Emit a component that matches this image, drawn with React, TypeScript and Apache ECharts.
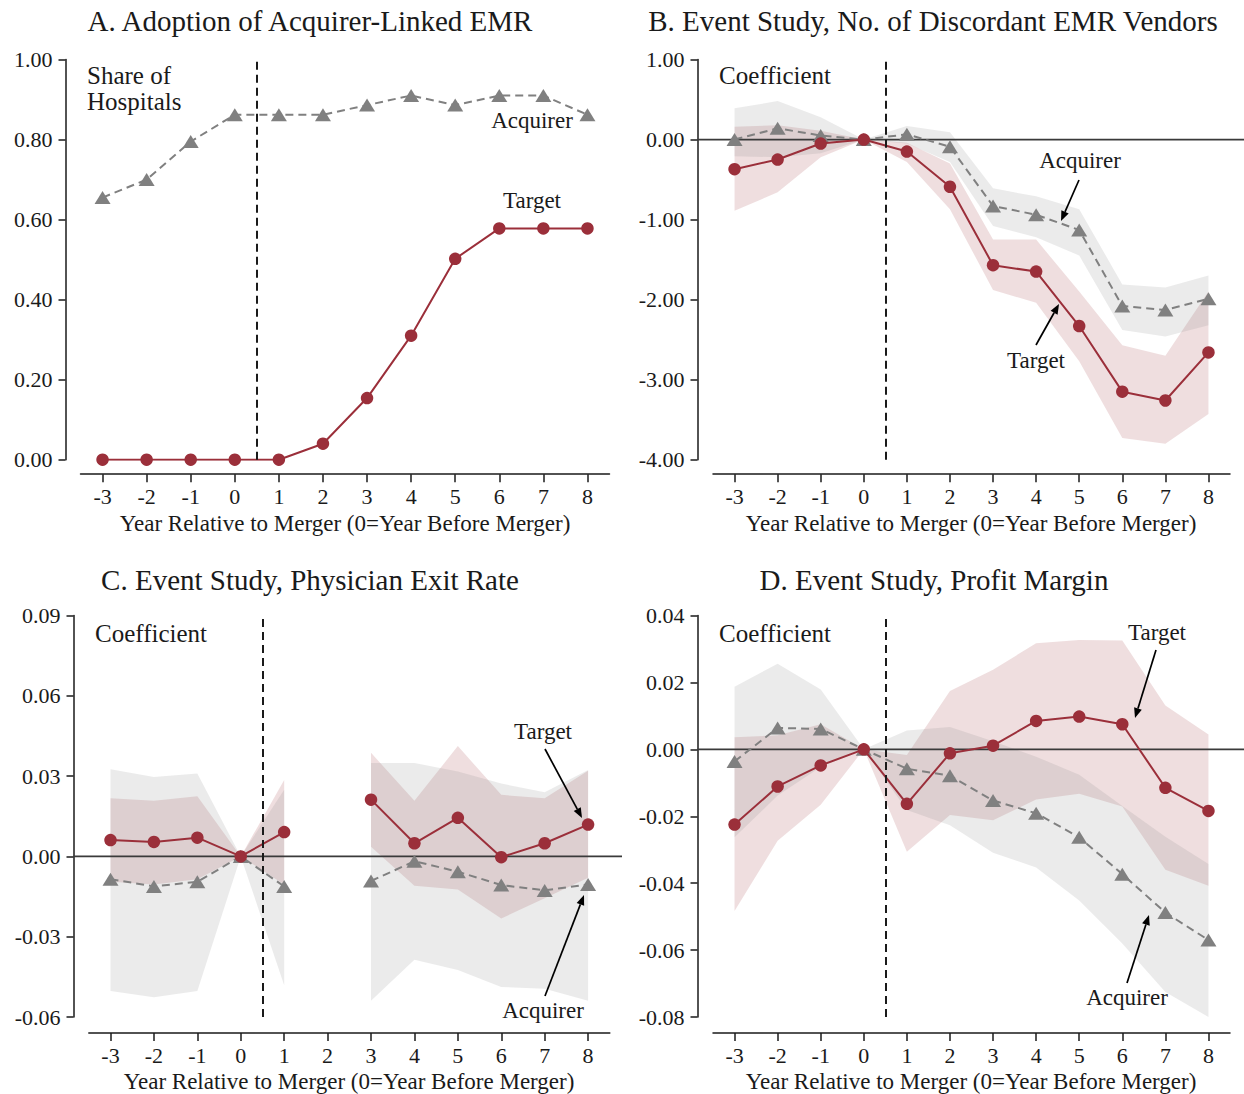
import React, { useEffect, useRef } from "react";
import * as echarts from "echarts";

const years = [-3, -2, -1, 0, 1, 2, 3, 4, 5, 6, 7, 8];

// Panel A: share of hospitals
const aTarget = [0, 0, 0, 0, 0, 0.04, 0.154, 0.31, 0.502, 0.578, 0.578, 0.578];
const aAcquirer = [0.655, 0.7, 0.795, 0.862, 0.862, 0.862, 0.886, 0.91, 0.886, 0.91, 0.91, 0.862];

// Panel B: discordant EMR vendors
const bTarget = [-0.37, -0.25, -0.05, 0, -0.15, -0.59, -1.57, -1.65, -2.33, -3.15, -3.26, -2.66];
const bTargetHi = [0.16, 0.18, 0.11, 0, -0.04, -0.3, -1.25, -1.25, -1.9, -2.57, -2.7, -1.9];
const bTargetLo = [-0.89, -0.66, -0.22, 0, -0.28, -0.87, -1.88, -2.04, -2.77, -3.73, -3.8, -3.43];
const bAcq = [0.0, 0.14, 0.05, 0, 0.065, -0.09, -0.83, -0.94, -1.13, -2.08, -2.13, -1.99];
const bAcqHi = [0.39, 0.48, 0.28, 0, 0.17, 0.09, -0.61, -0.71, -0.87, -1.81, -1.85, -1.7];
const bAcqLo = [-0.21, -0.22, -0.17, 0, -0.05, -0.28, -1.08, -1.22, -1.45, -2.38, -2.46, -2.32];

// Panel C: physician exit rate (no estimate for year 2)
const cTarget = [0.0061, 0.0054, 0.007, 0, 0.0091, null, 0.0212, 0.0049, 0.0144, -0.0003, 0.0049, 0.0119];
const cTargetHi = [0.0217, 0.0208, 0.0225, 0, 0.0285, null, 0.0387, 0.0208, 0.0412, 0.023, 0.0217, 0.032];
const cTargetLo = [-0.0095, -0.0105, -0.0085, 0, -0.0105, null, 0.0036, -0.011, -0.0124, -0.0232, -0.0156, -0.008];
const cAcq = [-0.0085, -0.0112, -0.0095, 0, -0.0112, null, -0.0092, -0.0018, -0.0057, -0.0107, -0.0127, -0.0105];
const cAcqHi = [0.0326, 0.0297, 0.031, 0, 0.0249, null, 0.0349, 0.0349, 0.0317, 0.0272, 0.024, 0.0323];
const cAcqLo = [-0.0503, -0.0526, -0.0503, 0, -0.0481, null, -0.0539, -0.0386, -0.0424, -0.0488, -0.0494, -0.0539];

// Panel D: profit margin
const dTarget = [-0.0225, -0.0111, -0.0048, 0, -0.0163, -0.0012, 0.0011, 0.0085, 0.0098, 0.0075, -0.0115, -0.0184];
const dTargetHi = [0.0036, 0.0042, 0.0075, 0, -0.0017, 0.0174, 0.0238, 0.0317, 0.0327, 0.0325, 0.0131, 0.0044];
const dTargetLo = [-0.0483, -0.0273, -0.0166, 0, -0.0306, -0.0196, -0.0212, -0.015, -0.0133, -0.0171, -0.036, -0.0408];
const dAcq = [-0.0036, 0.0064, 0.0061, 0, -0.0058, -0.0079, -0.0153, -0.0191, -0.0263, -0.0373, -0.0488, -0.057];
const dAcqHi = [0.0187, 0.0256, 0.0179, 0, 0.0056, 0.0067, 0.0024, -0.0022, -0.0076, -0.0169, -0.0261, -0.0343];
const dAcqLo = [-0.0263, -0.0138, -0.0053, 0, -0.0181, -0.0227, -0.0309, -0.0353, -0.0452, -0.058, -0.0725, -0.08];

const titles = [
  "A. Adoption of Acquirer-Linked EMR",
  "B. Event Study, No. of Discordant EMR Vendors",
  "C. Event Study, Physician Exit Rate",
  "D. Event Study, Profit Margin",
];
const xTitle = "Year Relative to Merger (0=Year Before Merger)";
const yRanges = [
  { min: 0, max: 1, interval: 0.2 },
  { min: -4, max: 1, interval: 1 },
  { min: -0.06, max: 0.09, interval: 0.03 },
  { min: -0.08, max: 0.04, interval: 0.02 },
];

const FONT = "Liberation Serif";
const INK = "#1a1a1a";
const MAROON = "#9b2f3a";
const GREY = "#808080";
const PINK_BAND = "rgba(155,47,58,0.16)";
const GREY_BAND = "rgba(128,128,128,0.16)";

// layout (pixel boxes of each panel)
const grids = [
  { left: 80.5, top: 59.5, width: 529, height: 400.2, yOff: 15, xOff: 14.5 },
  { left: 713, top: 59.5, width: 517, height: 400.2, yOff: 15.5, xOff: 14.5 },
  { left: 88.8, top: 615.5, width: 521, height: 401.5, yOff: 15.3, xOff: 16 },
  { left: 713, top: 615.5, width: 517, height: 401.5, yOff: 15.5, xOff: 16 },
];

const pts = (arr: (number | null)[]) => years.map((x, i) => [x, arr[i] == null ? "-" : arr[i]]);

// confidence band: custom series drawing one polygon per contiguous run of estimates
function band(gi: number, lo: (number | null)[], hi: (number | null)[], color: string) {
  return {
    type: "custom", xAxisIndex: gi, yAxisIndex: gi, silent: true, z: 1, clip: true,
    data: years.map((x, i) => [x, lo[i] == null ? "-" : lo[i], hi[i] == null ? "-" : hi[i]]),
    renderItem: (params: any, api: any) => {
      if (params.dataIndex !== 0) return null;
      const n = years.length;
      const runs: number[][] = [];
      let cur: number[] = [];
      for (let i = 0; i < n; i++) {
        const l = api.value(1, i), h = api.value(2, i);
        if (isNaN(l) || isNaN(h)) {
          if (cur.length) runs.push(cur);
          cur = [];
        } else cur.push(i);
      }
      if (cur.length) runs.push(cur);
      const children = runs.filter((r) => r.length > 1).map((r) => {
        const upper = r.map((i) => api.coord([api.value(0, i), api.value(2, i)]));
        const lower = r.slice().reverse().map((i) => api.coord([api.value(0, i), api.value(1, i)]));
        return { type: "polygon", shape: { points: upper.concat(lower) }, style: { fill: color }, silent: true };
      });
      return { type: "group", children };
    },
  };
}

function targetLine(gi: number, arr: (number | null)[]) {
  return {
    type: "line", xAxisIndex: gi, yAxisIndex: gi, data: pts(arr),
    symbol: "circle", symbolSize: 12.5, itemStyle: { color: MAROON },
    lineStyle: { color: MAROON, width: 2 }, z: 4, silent: true,
  };
}
function acqLine(gi: number, arr: (number | null)[]) {
  return {
    type: "line", xAxisIndex: gi, yAxisIndex: gi, data: pts(arr),
    symbol: "triangle", symbolSize: [16, 13], itemStyle: { color: GREY },
    lineStyle: { color: GREY, width: 2, type: [8, 5] }, z: 3, silent: true,
  };
}
function vline(gi: number) {
  return {
    type: "line", xAxisIndex: gi, yAxisIndex: gi, data: [], silent: true,
    markLine: {
      silent: true, symbol: "none", label: { show: false }, animation: false,
      lineStyle: { color: INK, width: 2, type: [8, 5] },
      data: [{ xAxis: 0.5 }],
    },
  };
}

function txt(x: number, y: number, text: string, size: number, align = "center") {
  return {
    type: "text", x, y, silent: true, z: 50,
    style: { text, fontSize: size, fontFamily: FONT, fill: INK, align, verticalAlign: "middle" },
  };
}
function arrow(x1: number, y1: number, x2: number, y2: number) {
  const dx = x2 - x1, dy = y2 - y1;
  const L = Math.hypot(dx, dy);
  const ux = dx / L, uy = dy / L;
  const hl = 10, hw = 4;
  const bx = x2 - ux * hl, by = y2 - uy * hl;
  return [
    { type: "line", silent: true, z: 50, shape: { x1, y1, x2: bx, y2: by }, style: { stroke: "#000", lineWidth: 1.7 } },
    {
      type: "polygon", silent: true, z: 50,
      shape: { points: [[x2, y2], [bx - uy * hw, by + ux * hw], [bx + uy * hw, by - ux * hw]] },
      style: { fill: "#000" },
    },
  ];
}

export default function App() {
  const ref = useRef<HTMLDivElement>(null);
  useEffect(() => {
    const chart = echarts.init(ref.current!, undefined, { renderer: "svg" });
    const option: any = {
      animation: false,
      backgroundColor: "#fff",
      grid: grids.map((g) => ({ left: g.left, top: g.top, width: g.width, height: g.height, containLabel: false, outerBoundsMode: "none" })),
      xAxis: grids.map((g, i) => ({
        type: "value", gridIndex: i, min: -3.5, max: 8.5, offset: g.xOff, position: "bottom",
        axisLine: { show: true, onZero: false, lineStyle: { color: INK, width: 1.5 } },
        axisTick: { show: true, length: 8, customValues: years, lineStyle: { color: INK, width: 1.5 } },
        axisLabel: { customValues: years, margin: 11, fontFamily: FONT, fontSize: 22, color: INK, formatter: (v: number) => String(v) },
        splitLine: { show: false },
      })),
      yAxis: grids.map((g, i) => ({
        type: "value", gridIndex: i, min: yRanges[i].min, max: yRanges[i].max, interval: yRanges[i].interval,
        offset: g.yOff, position: "left",
        axisLine: { show: true, onZero: false, lineStyle: { color: INK, width: 1.5 } },
        axisTick: { show: true, length: 7, lineStyle: { color: INK, width: 1.5 } },
        axisLabel: { margin: 13, fontFamily: FONT, fontSize: 22, color: INK, formatter: (v: number) => v.toFixed(2) },
        splitLine: { show: false },
      })),
      series: [
        vline(0), targetLine(0, aTarget), acqLine(0, aAcquirer),
        band(1, bTargetLo, bTargetHi, PINK_BAND), band(1, bAcqLo, bAcqHi, GREY_BAND),
        vline(1), targetLine(1, bTarget), acqLine(1, bAcq),
        band(2, cTargetLo, cTargetHi, PINK_BAND), band(2, cAcqLo, cAcqHi, GREY_BAND),
        vline(2), targetLine(2, cTarget), acqLine(2, cAcq),
        band(3, dTargetLo, dTargetHi, PINK_BAND), band(3, dAcqLo, dAcqHi, GREY_BAND),
        vline(3), targetLine(3, dTarget), acqLine(3, dAcq),
      ],
    };
    chart.setOption(option);

    const zeroY = (gi: number) => (chart.convertToPixel({ gridIndex: gi } as any, [0, 0]) as number[])[1];
    const zeroLine = (gi: number, x1: number, x2: number) => ({
      type: "line", silent: true, z: 2,
      shape: { x1, y1: zeroY(gi), x2, y2: zeroY(gi) },
      style: { stroke: "#3a3a3a", lineWidth: 1.8 },
    });

    const elements: any[] = [
      txt(310, 21, titles[0], 29), txt(933, 21, titles[1], 29),
      txt(310, 580, titles[2], 29), txt(934, 580, titles[3], 29),
      txt(345, 523, xTitle, 23), txt(971, 523, xTitle, 23),
      txt(349, 1081, xTitle, 23), txt(971, 1081, xTitle, 23),
      txt(87, 75, "Share of", 25, "left"), txt(87, 101, "Hospitals", 25, "left"),
      txt(719, 75, "Coefficient", 25, "left"), txt(95, 633, "Coefficient", 25, "left"),
      txt(719, 633, "Coefficient", 25, "left"),
      txt(532, 120, "Acquirer", 23), txt(532, 200, "Target", 23),
      txt(1080, 160, "Acquirer", 23), txt(1036, 360, "Target", 23),
      txt(543, 731, "Target", 23), txt(543, 1010, "Acquirer", 23),
      txt(1157, 632, "Target", 23), txt(1127, 997, "Acquirer", 23),
      ...arrow(1079, 180, 1061, 221), ...arrow(1036, 345, 1059, 304),
      ...arrow(545, 749, 582, 818), ...arrow(545, 996, 584, 895),
      ...arrow(1156, 650, 1135, 718), ...arrow(1127, 983, 1149, 915),
      zeroLine(1, 697.5, 1244), zeroLine(2, 73.5, 622), zeroLine(3, 697.5, 1244),
    ];
    chart.setOption({ graphic: { elements } });

    return () => chart.dispose();
  }, []);
  return <div ref={ref} style={{ position: "fixed", left: 0, top: 0, width: 1244, height: 1094 }} />;
}
